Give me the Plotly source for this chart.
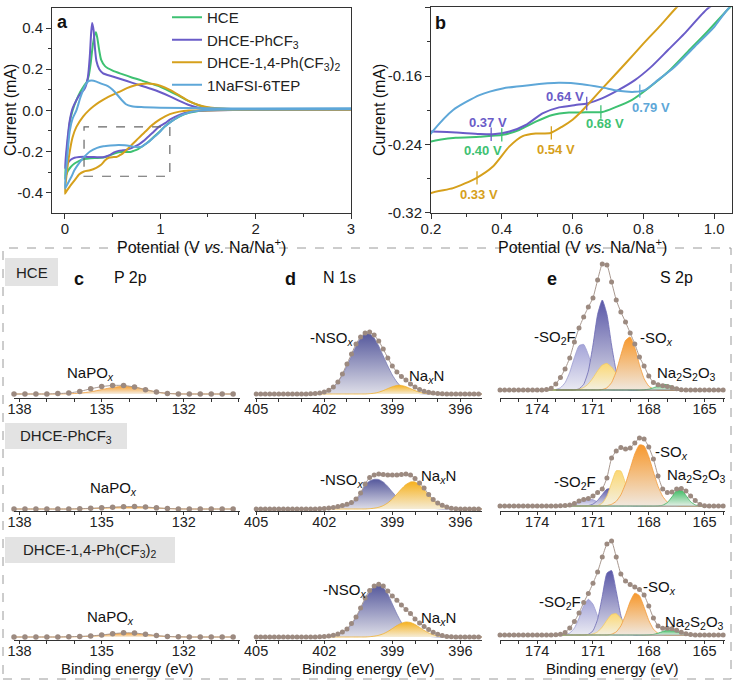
import plotly.graph_objects as go

W, H = 734, 682
FONT = "Arial, 'Liberation Sans', sans-serif"

# ---------------- CV data (panel a; panel b is a zoom of the same curves) ----------------
hce_v = [3.0, 2.0, 1.6, 1.5, 1.4, 1.3, 1.2, 1.1, 1.042, 0.98, 0.925, 0.87, 0.813, 0.767, 0.72, 0.684,
         0.637, 0.59, 0.543, 0.496, 0.449, 0.403, 0.337, 0.27, 0.2, 0.15, 0.1, 0.06, 0.03, 0.01, 0.0,
         0.02, 0.05, 0.08, 0.12, 0.16, 0.2, 0.23, 0.25, 0.27, 0.29, 0.31, 0.325, 0.34, 0.36, 0.38, 0.42,
         0.5, 0.6, 0.7, 0.8, 0.9, 1.0, 1.1, 1.2, 1.3, 1.4, 1.5, 1.7, 2.0, 2.5, 3.0]
hce_i = [0.004, 0.003, 0.002, 0.001, -0.003, -0.012, -0.03, -0.058, -0.0806, -0.1084, -0.1317, -0.155,
         -0.1744, -0.188, -0.1966, -0.202, -0.2024, -0.2027, -0.2055, -0.2133, -0.223, -0.2287, -0.231,
         -0.2322, -0.2366, -0.245, -0.258, -0.275, -0.295, -0.318, -0.332,
         -0.2, -0.06, 0.0, 0.05, 0.09, 0.12, 0.14, 0.17, 0.23, 0.31, 0.365, 0.38, 0.35, 0.29, 0.245, 0.215,
         0.193, 0.176, 0.16, 0.146, 0.13, 0.115, 0.093, 0.07, 0.045, 0.025, 0.013, 0.007, 0.006, 0.006, 0.006]

ph_v = [3.0, 2.0, 1.5, 1.4, 1.3, 1.2, 1.1, 1.05, 0.981, 0.916, 0.869, 0.822, 0.776, 0.729, 0.683, 0.641,
        0.608, 0.562, 0.515, 0.468, 0.422, 0.375, 0.337, 0.272, 0.2, 0.15, 0.1, 0.06, 0.03, 0.01, 0.0,
        0.02, 0.05, 0.08, 0.12, 0.16, 0.2, 0.22, 0.24, 0.26, 0.275, 0.285, 0.3, 0.315, 0.33, 0.36, 0.4,
        0.5, 0.6, 0.7, 0.8, 0.9, 1.0, 1.1, 1.2, 1.3, 1.4, 1.5, 1.7, 2.0, 3.0]
ph_i = [0.003, 0.003, 0.0, -0.002, -0.008, -0.022, -0.045, -0.062, -0.0812, -0.1103, -0.1298, -0.1492,
        -0.1647, -0.1764, -0.186, -0.192, -0.1938, -0.1966, -0.2036, -0.2172, -0.2249, -0.228, -0.2277,
        -0.2261, -0.2249, -0.226, -0.23, -0.24, -0.255, -0.27, -0.28,
        -0.17, -0.05, 0.01, 0.05, 0.08, 0.1, 0.12, 0.16, 0.26, 0.38, 0.425, 0.39, 0.3, 0.24, 0.2, 0.18,
        0.165, 0.15, 0.135, 0.12, 0.105, 0.088, 0.068, 0.046, 0.026, 0.013, 0.007, 0.005, 0.005, 0.005]

ph2_v = [3.0, 2.0, 1.4, 1.3, 1.2, 1.1, 1.0, 0.95, 0.893, 0.85, 0.8, 0.75, 0.683, 0.646, 0.62, 0.6, 0.571,
         0.538, 0.496, 0.459, 0.421, 0.375, 0.328, 0.2625, 0.2, 0.15, 0.1, 0.05, 0.02, 0.0,
         0.02, 0.05, 0.08, 0.12, 0.19, 0.25, 0.3, 0.36, 0.45, 0.57, 0.65, 0.72, 0.8, 0.86, 0.93, 1.0,
         1.1, 1.2, 1.3, 1.4, 1.5, 1.6, 1.8, 2.0, 3.0]
ph2_i = [0.003, 0.003, 0.0, -0.001, -0.006, -0.018, -0.042, -0.058, -0.08, -0.1, -0.122, -0.145, -0.175,
         -0.192, -0.2035, -0.211, -0.219, -0.2265, -0.2272, -0.2302, -0.2425, -0.2658, -0.2793, -0.2911,
         -0.2968, -0.31, -0.34, -0.37, -0.39, -0.405,
         -0.3, -0.2, -0.13, -0.08, -0.03, 0.0, 0.02, 0.04, 0.065, 0.09, 0.108, 0.12, 0.128, 0.131, 0.128,
         0.12, 0.1, 0.073, 0.045, 0.026, 0.015, 0.01, 0.006, 0.005, 0.004]

tep_v = [3.0, 2.0, 1.5, 1.4, 1.3, 1.2, 1.1, 1.042, 1.0, 0.944, 0.888, 0.841, 0.804, 0.776, 0.729, 0.683,
         0.627, 0.561, 0.477, 0.4025, 0.337, 0.2625, 0.2, 0.15, 0.1, 0.07, 0.03, 0.0,
         0.02, 0.05, 0.08, 0.12, 0.16, 0.2, 0.24, 0.28, 0.33, 0.38, 0.45, 0.5, 0.55, 0.6, 0.64, 0.7,
         0.8, 1.0, 1.5, 2.0, 3.0]
tep_i = [0.005, 0.004, 0.002, -0.002, -0.01, -0.028, -0.06, -0.08, -0.1026, -0.1259, -0.1492, -0.1647,
         -0.1764, -0.1784, -0.1772, -0.1732, -0.1694, -0.1679, -0.1706, -0.1744, -0.1822, -0.1997, -0.2269,
         -0.255, -0.29, -0.32, -0.355, -0.38,
         -0.25, -0.1, -0.04, 0.0, 0.06, 0.11, 0.14, 0.145, 0.14, 0.13, 0.118, 0.1, 0.075, 0.048, 0.03,
         0.02, 0.016, 0.013, 0.01, 0.009, 0.01]

cv_names = ["HCE", "DHCE-PhCF<sub>3</sub>", "DHCE-1,4-Ph(CF<sub>3</sub>)<sub>2</sub>", "1NaFSI-6TEP"]
cv_data = [(hce_v, hce_i), (ph_v, ph_i), (ph2_v, ph2_i), (tep_v, tep_i)]
cv_colors = ["#3ec172", "#6a5cc8", "#d6a01c", "#5ea7d8"]

# onset markers in panel b (series index into cv lists)
mark_v = [0.64, 0.37, 0.40, 0.68, 0.79, 0.54, 0.33]
mark_i = [-0.192, -0.228, -0.2287, -0.202, -0.1775, -0.2265, -0.279]
mark_series = [1, 1, 0, 0, 3, 2, 2]
mark_label = ["0.64 V", "0.37 V", "0.40 V", "0.68 V", "0.79 V", "0.54 V", "0.33 V"]
label_v = [0.58, 0.36, 0.347, 0.692, 0.823, 0.552, 0.337]
label_i = [-0.1834, -0.2145, -0.247, -0.216, -0.1966, -0.2463, -0.298]
zoom_box = [0.2, 1.1, -0.32, -0.08]

# ---------------- XPS data (intensity, arbitrary units) ----------------
E_P = [138.2, 137.8, 137.4, 137.0, 136.6, 136.2, 135.8, 135.4, 135.0, 134.6, 134.2, 133.8, 133.4,
       133.0, 132.6, 132.2, 131.8, 131.4, 131.0, 130.6, 130.2]
E_N = [405.0, 404.8, 404.6, 404.4, 404.2, 404.0, 403.8, 403.6, 403.4, 403.2, 403.0, 402.8, 402.6, 402.4,
       402.2, 402.0, 401.8, 401.6, 401.4, 401.2, 401.0, 400.8, 400.6, 400.4, 400.2, 400.0, 399.8, 399.6,
       399.4, 399.2, 399.0, 398.8, 398.6, 398.4, 398.2, 398.0, 397.8, 397.6, 397.4, 397.2, 397.0, 396.8,
       396.6, 396.4, 396.2, 396.0, 395.8, 395.6, 395.4, 395.2, 395.0]
E_S = [176.0, 175.75, 175.5, 175.25, 175.0, 174.75, 174.5, 174.25, 174.0, 173.75, 173.5, 173.25, 173.0,
       172.75, 172.5, 172.25, 172.0, 171.75, 171.5, 171.25, 171.0, 170.75, 170.5, 170.25, 170.0, 169.75,
       169.5, 169.25, 169.0, 168.75, 168.5, 168.25, 168.0, 167.75, 167.5, 167.25, 167.0, 166.75, 166.5,
       166.25, 166.0, 165.75, 165.5, 165.25, 165.0, 164.75, 164.5, 164.25, 164.0]

# P 2p
p_hce_raw = [0, 0, 0, 0, 0.4, 1.0, 2.6, 5.2, 7.4, 8.6, 8.6, 7.0, 4.2, 2.0, 0.6, 0, 0, 0, 0, 0, 0]
p_hce_napo = [0, 0, 0, 0, 0, 0.2, 0.8, 2.2, 4.4, 6.6, 7.8, 7.0, 4.6, 2.0, 0.6, 0.1, 0, 0, 0, 0, 0]
p_ph_raw = [0, 0, 0, 0, 0, 0, 0.3, 0.7, 1.2, 1.8, 2.3, 2.4, 2.0, 1.2, 0.5, 0.1, 0, 0, 0, 0, 0]
p_ph_napo = [0, 0, 0, 0, 0, 0, 0.1, 0.4, 0.9, 1.5, 2.0, 2.1, 1.7, 1.0, 0.4, 0.1, 0, 0, 0, 0, 0]
p_ph2_raw = [0, 0, 0, 0, 0, 0.3, 0.6, 1.1, 2.0, 3.3, 4.2, 4.0, 2.8, 1.4, 0.6, 0.2, 0, 0, 0, 0, 0]
p_ph2_napo = [0, 0, 0, 0, 0, 0.1, 0.3, 0.8, 1.7, 2.9, 3.7, 3.6, 2.5, 1.2, 0.4, 0.1, 0, 0, 0, 0, 0]

# N 1s
n_hce_raw = [0] * 12 + [0.2, 0.5, 1.0, 2.0, 3.7, 7, 12, 20, 30, 40, 50, 57, 61, 62, 59, 53, 45, 36, 28,
                        22, 17.5, 14, 10, 7, 4.5, 2.8, 1.7, 1.0, 0.5, 0.2] + [0] * 9
n_hce_nso = [0] * 12 + [0.2, 0.4, 0.9, 1.9, 3.8, 7, 12, 19, 28, 38, 48, 56, 60.4, 60.4, 56, 48, 38, 28,
                        19, 12, 7, 3.8, 1.9, 0.9, 0.4, 0.2] + [0] * 13
n_hce_nax = [0] * 25 + [0.3, 0.8, 1.8, 3.4, 5.4, 7.3, 8.6, 8.6, 7.3, 5.4, 3.4, 1.8, 0.8, 0.3] + [0] * 12
n_ph_raw = [0] * 14 + [0.3, 0.6, 1.0, 1.6, 2.4, 3.4, 4.8, 6.6, 10, 16, 25, 31.5, 34, 35, 34.5, 34, 34,
                       34, 34.5, 35, 34, 30.5, 26, 21, 14.5, 9.5, 6, 3.8, 2.0, 0.8, 0.3] + [0] * 6
n_ph_nso = [0] * 15 + [0.3, 0.6, 1.0, 1.6, 2.4, 3.5, 5, 8.5, 15, 24, 28, 29.7, 29.5, 27, 22.5, 17, 12,
                       8.5, 6, 4.2, 3, 2.2, 1.5, 1.0, 0.6, 0.3] + [0] * 10
n_ph_nax = [0] * 25 + [0.3, 0.8, 1.7, 3.4, 6.1, 10, 14.9, 20, 24.4, 27, 27, 24, 19, 13, 8.5, 5, 2.8, 1.4,
                       0.6, 0.2] + [0] * 6
n_ph2_raw = [0] * 14 + [0.3, 0.5, 1.0, 1.8, 3, 5, 8, 13.5, 20, 29, 39, 46.5, 51, 52.7, 51, 46, 41, 36.7,
                        32, 27.5, 23.5, 18, 14, 10.5, 7.5, 4.8, 2.8, 1.5, 0.6, 0.2] + [0] * 7
n_ph2_nso = [0] * 15 + [0.4, 0.8, 1.5, 2.6, 4.5, 7.5, 12.5, 19, 28, 37.5, 45, 50.5, 52, 49.5, 43, 33, 23,
                        14.5, 8.5, 5, 3, 1.8, 1.1, 0.6, 0.3] + [0] * 11
n_ph2_nax = [0] * 25 + [0.3, 0.8, 1.7, 3.2, 5.5, 8.4, 11.4, 13.8, 15, 14.5, 12.5, 9.6, 6.6, 4.1, 2.2,
                        1.1, 0.5, 0.2] + [0] * 8

# S 2p
s_hce_raw = [0] * 10 + [0.5, 1.7, 6, 12.5, 21, 32, 48, 62, 73, 83, 92, 110, 126, 125, 108, 90, 78, 68,
                        57, 46, 33, 24, 14, 7.5, 5.2, 4.3, 3.6, 2.5, 1.2, 0.3] + [0] * 9
s_hce_so2f_b = [0] * 12 + [0.5, 2.2, 7.3, 17.7, 32.4, 44.3, 45.6, 35.3, 20.5, 8.9, 2.9, 0.7] + [0] * 25
s_hce_so2f_a = [0] * 17 + [1.2, 5.6, 18.9, 45, 75.7, 90, 75.7, 45, 18.9, 5.6, 1.2] + [0] * 21
s_hce_sox_b = [0] * 17 + [0.8, 2.5, 6.1, 12, 19.2, 25, 26.6, 23, 16.3, 9.3, 4.4, 1.7, 0.5] + [0] * 19
s_hce_sox_a = [0] * 22 + [0.5, 2.2, 7.4, 18.5, 34.9, 49.5, 53, 42.2, 25.3, 11.4, 3.9, 1.0] + [0] * 15
s_hce_thio = [0] * 31 + [0.2, 0.8, 2.2, 4.1, 5.6, 5.3, 3.6, 1.7, 0.6, 0.2] + [0] * 8

s_ph_raw = [0] * 13 + [0.2, 0.5, 0.9, 2.5, 5, 6.5, 7.5, 10, 13.5, 17, 28, 48, 55, 58.5, 57, 58, 63, 68,
                       67, 59, 47, 30, 17, 13.5, 14, 17, 17.5, 15, 10, 5.5, 1.5, 0.3] + [0] * 4
s_ph_so2f_b = [0] * 15 + [0.3, 1.2, 3, 5.5, 6.9, 6.3, 4, 1.8, 0.6] + [0] * 25
s_ph_so2f_a = [0] * 19 + [0.5, 1.9, 5.6, 11.5, 16.9, 17.5, 12.8, 6.6, 2.4, 0.6] + [0] * 20
s_ph_sox_b = [0] * 21 + [0.5, 2.8, 9.9, 23.2, 35.2, 34.9, 22.6, 9.5, 2.6, 0.5] + [0] * 18
s_ph_sox_a = [0] * 23 + [0.5, 1.7, 4.7, 11.2, 22.3, 37.2, 52.1, 61.1, 60.1, 49.4, 34.1, 19.7, 9.6, 3.9,
                         1.3, 0.4] + [0] * 10
s_ph_thio_b = [0] * 31 + [0.3, 1.0, 2.3, 3.6, 4, 3.4, 2.1, 0.9, 0.3] + [0] * 9
s_ph_thio = [0] * 34 + [0.1, 0.8, 3.4, 9.2, 15.6, 16.3, 10.6, 4.3, 1.1, 0.2] + [0] * 5

s_ph2_raw = [0] * 12 + [0.3, 0.8, 2.6, 7, 13.5, 22, 32.5, 41.5, 51.7, 63, 78, 91, 94, 78, 61, 54, 50.5,
                        48, 45.5, 40, 29, 17, 9, 6.7, 6.7, 6.2, 4.8, 2.8, 1.2, 0.4] + [0] * 7
s_ph2_so2f_b = [0] * 14 + [0.4, 2.0, 6.9, 16.9, 29.2, 35.7, 30.8, 18.8, 8.1, 2.5, 0.5] + [0] * 24
s_ph2_so2f_a = [0] * 19 + [0.7, 4.2, 15.7, 38.6, 61.8, 64.4, 43.8, 19.5, 5.6, 1.1] + [0] * 20
s_ph2_sox_b = [0] * 19 + [0.3, 1.0, 3.2, 8.0, 14.8, 20.5, 21.3, 16.6, 9.8, 4.3, 1.4, 0.4] + [0] * 18
s_ph2_sox_a = [0] * 24 + [0.8, 3.1, 9.1, 20.1, 33.4, 41.8, 39.3, 27.7, 14.7, 5.8, 1.7, 0.4] + [0] * 13
s_ph2_thio = [0] * 32 + [0.2, 0.6, 1.8, 3.5, 4.8, 4.7, 3.3, 1.6, 0.6, 0.2] + [0] * 7

# gradient colours (bottom, top) and edge colour per component kind
GRAD = {
    "napo": ("#f6eee2", "#f5a034", "#f0a040"),
    "nso": ("#dedee8", "#55589c", "#7a7cb4"),
    "nax": ("#f5ecd6", "#f6b11e", "#f0b030"),
    "lav": ("#eaeaf2", "#a4a4d8", "#9c9cd0"),
    "navy": ("#e0e0ea", "#5a58a8", "#6c6ab4"),
    "yel": ("#f3f0e2", "#fcd874", "#f4cc60"),
    "org": ("#f0e8de", "#f7982c", "#f29a38"),
    "lgrn": ("#eef6ef", "#bfe6c8", "#b0dcba"),
    "grn": ("#e2efe5", "#3dbb62", "#40b060"),
}
DOT = "#9c8a80"

fig = go.Figure()


def fx(p):
    return p / W


def fy(p):
    return 1 - p / H


# ---------------- panels a and b ----------------
for (v, cur), name, col in zip(cv_data, cv_names, cv_colors):
    fig.add_trace(go.Scatter(x=v, y=cur, mode="lines", name=name,
                             line=dict(color=col, width=2, shape="spline", smoothing=0.6),
                             xaxis="x", yaxis="y", showlegend=True))
for (v, cur), name, col in zip(cv_data, cv_names, cv_colors):
    fig.add_trace(go.Scatter(x=v, y=cur, mode="lines", line=dict(color=col, width=2, shape="spline", smoothing=0.6),
                             xaxis="x2", yaxis="y2", showlegend=False))

for v, c, s in zip(mark_v, mark_i, mark_series):
    fig.add_trace(go.Scatter(x=[v, v], y=[c - 0.0078, c + 0.0078], mode="lines",
                             line=dict(color=cv_colors[s], width=1.3), xaxis="x2", yaxis="y2", showlegend=False))

annotations = []
for t, v, c, s in zip(mark_label, label_v, label_i, mark_series):
    annotations.append(dict(text="<b>%s</b>" % t, x=v, y=c, xref="x2", yref="y2", showarrow=False,
                            xanchor="center", yanchor="middle", font=dict(size=13, color=cv_colors[s])))

shapes = [dict(type="rect", xref="x", yref="y", x0=zoom_box[0], x1=zoom_box[1], y0=zoom_box[2], y1=zoom_box[3],
               line=dict(color="#666", width=1.2, dash="dash"))]

axline = dict(showline=True, linecolor="#333", linewidth=1, mirror=True, showgrid=False, zeroline=False,
              ticks="outside", ticklen=5, tickcolor="#333", tickfont=dict(size=15, color="#222"), automargin=False)

layout = dict(
    xaxis=dict(axline, domain=[fx(52), fx(351)], range=[-0.136, 3.0], tickvals=[0, 1, 2, 3],
               ticklabelstandoff=-3,
               minor=dict(tickvals=[0.5, 1.5, 2.5], ticks="outside", ticklen=3, tickcolor="#333"), anchor="y"),
    yaxis=dict(axline, domain=[fy(213.3), fy(7.5)], range=[-0.5, 0.5],
               tickvals=[-0.4, -0.2, 0.0, 0.2, 0.4], ticktext=["-0.4", "-0.2", "0.0", "0.2", "0.4"],
               minor=dict(tickvals=[-0.3, -0.1, 0.1, 0.3], ticks="outside", ticklen=3, tickcolor="#333"),
               anchor="x"),
    xaxis2=dict(axline, domain=[fx(431), fx(732)], range=[0.2, 1.0505],
                tickvals=[0.2, 0.4, 0.6, 0.8, 1.0], ticktext=["0.2", "0.4", "0.6", "0.8", "1.0"],
                ticklabelstandoff=-3,
                minor=dict(tickvals=[0.3, 0.5, 0.7, 0.9], ticks="outside", ticklen=3, tickcolor="#333"),
                anchor="y2"),
    yaxis2=dict(axline, domain=[fy(213.3), fy(7.3)], range=[-0.3205, -0.0795],
                tickvals=[-0.32, -0.24, -0.16, -0.08], ticktext=["-0.32", "-0.24", "-0.16", "-0.08"],
                minor=dict(tickvals=[-0.28, -0.2, -0.12], ticks="outside", ticklen=3, tickcolor="#333"),
                anchor="x2"),
)

# ---------------- XPS panels c, d, e ----------------
cols = [
    dict(x0=14, x1=240, rng=[138.2, 129.95], ticks=[138, 135, 132], E=E_P),
    dict(x0=255, x1=482, rng=[405.05, 395.05], ticks=[405, 402, 399, 396], E=E_N),
    dict(x0=500, x1=725, rng=[176.0, 163.9], ticks=[174, 171, 168, 165], E=E_S),
]
rows = [
    dict(top=255, bottom=398, off=(4, 4, 8)),
    dict(top=430, bottom=511, off=(2, 2, 5)),
    dict(top=535, bottom=640, off=(3, 3, 5)),
]
spectra = [
    [(p_hce_raw, [(p_hce_napo, "napo")]),
     (n_hce_raw, [(n_hce_nso, "nso"), (n_hce_nax, "nax")]),
     (s_hce_raw, [(s_hce_so2f_b, "lav"), (s_hce_so2f_a, "navy"), (s_hce_sox_b, "yel"), (s_hce_sox_a, "org"),
                  (s_hce_thio, "grn")])],
    [(p_ph_raw, [(p_ph_napo, "napo")]),
     (n_ph_raw, [(n_ph_nso, "nso"), (n_ph_nax, "nax")]),
     (s_ph_raw, [(s_ph_so2f_b, "lav"), (s_ph_so2f_a, "navy"), (s_ph_sox_b, "yel"), (s_ph_thio_b, "lgrn"),
                 (s_ph_sox_a, "org"), (s_ph_thio, "grn")])],
    [(p_ph2_raw, [(p_ph2_napo, "napo")]),
     (n_ph2_raw, [(n_ph2_nso, "nso"), (n_ph2_nax, "nax")]),
     (s_ph2_raw, [(s_ph2_so2f_b, "lav"), (s_ph2_so2f_a, "navy"), (s_ph2_sox_b, "yel"), (s_ph2_sox_a, "org"),
                  (s_ph2_thio, "grn")])],
]

n = 3
for r, row in enumerate(rows):
    for c, col in enumerate(cols):
        xa, ya = "x%d" % n, "y%d" % n
        raw, comps = spectra[r][c]
        E = col["E"]
        for vals, kind in comps:
            lo, hi, edge = GRAD[kind]
            fig.add_trace(go.Scatter(x=E, y=vals, mode="lines", fill="tozeroy",
                                     line=dict(color=edge, width=0.8, shape="spline", smoothing=0.5),
                                     fillgradient=dict(type="vertical", colorscale=[[0, lo], [1, hi]]),
                                     xaxis=xa, yaxis=ya, showlegend=False, hoverinfo="skip"))
        if c == 2:
            nz = [e for e, *vs in zip(E, *[v for v, _ in comps]) if max(vs) > 0.15]
            fig.add_trace(go.Scatter(x=[nz[0], nz[-1]], y=[0, 0], mode="lines",
                                     line=dict(color="#666" if r == 0 else "#9a9a9a", width=0.9),
                                     xaxis=xa, yaxis=ya, showlegend=False, hoverinfo="skip"))
        fig.add_trace(go.Scatter(x=E, y=raw, mode="lines+markers", cliponaxis=False,
                                 line=dict(color="#a8988f", width=1, shape="spline", smoothing=0.4),
                                 marker=dict(color=DOT, size=5 if c else 5.5),
                                 xaxis=xa, yaxis=ya, showlegend=False, hoverinfo="skip"))
        hgt = row["bottom"] - row["top"]
        off = row["off"][c]
        minor_vals = [t for t in range(int(col["rng"][1]) + 1, int(col["rng"][0]) + 1) if t not in col["ticks"]]
        layout["xaxis%d" % n] = dict(domain=[fx(col["x0"]), fx(col["x1"])], range=col["rng"], anchor=ya,
                                     showline=True, linecolor="#333", linewidth=1, showgrid=False, zeroline=False,
                                     ticks="outside", ticklen=3, tickcolor="#333", tickvals=col["ticks"],
                                     tickfont=dict(size=14.5, color="#222"), automargin=False,
                                     ticklabelstandoff=-5,
                                     minor=dict(tickvals=minor_vals, ticks="outside", ticklen=3, tickcolor="#333"))
        layout["yaxis%d" % n] = dict(domain=[fy(row["bottom"]), fy(row["top"])], range=[-off, hgt - off],
                                     anchor=xa, visible=False, automargin=False)
        n += 1

# big dashed frame and sample labels
shapes.append(dict(type="rect", xref="paper", yref="paper", x0=fx(3), x1=fx(731), y0=fy(679), y1=fy(248),
                   line=dict(color="#9a9a9a", width=1, dash="dash")))
row_labels = ["HCE", "DHCE-PhCF<sub>3</sub>", "DHCE-1,4-Ph(CF<sub>3</sub>)<sub>2</sub>"]
row_boxes = [(5, 258, 58, 286), (5, 423, 127, 449), (5, 537, 175, 563)]
for txt, (x0, y0, x1, y1) in zip(row_labels, row_boxes):
    shapes.append(dict(type="rect", xref="paper", yref="paper", x0=fx(x0), x1=fx(x1), y0=fy(y1), y1=fy(y0),
                       fillcolor="#e3e3e3", line=dict(width=0), layer="below"))
    annotations.append(dict(text=txt, x=fx((x0 + x1) / 2), y=fy((y0 + y1) / 2), xref="paper", yref="paper",
                            xanchor="center", yanchor="middle", showarrow=False, font=dict(size=15, color="#222")))


def note(text, x, y, size=15, bold=False, angle=0):
    annotations.append(dict(text="<b>%s</b>" % text if bold else text, x=fx(x), y=fy(y), xref="paper",
                            yref="paper", xanchor="center", yanchor="middle", showarrow=False, textangle=angle,
                            font=dict(size=size, color="#111")))


pot_title = "Potential (V <i>vs.</i> Na/Na<sup>+</sup>)"
note(pot_title, 201, 246, 16)
note(pot_title, 582, 246, 16)
note("Current (mA)", 11, 110, 16, angle=-90)
note("Current (mA)", 380, 110, 16, angle=-90)
for xc in (127, 368, 612):
    note("Binding energy (eV)", xc, 668, 15)

note("a", 62, 22, 18, True)
note("b", 440, 23, 18, True)
note("c", 79, 279, 18, True)
note("d", 290, 279, 18, True)
note("e", 552, 279, 18, True)
note("P 2p", 130, 277, 16)
note("N 1s", 339, 277, 16)
note("S 2p", 676, 277, 16)

NAPO = "NaPO<sub><i>x</i></sub>"
NSO = "-NSO<sub><i>x</i></sub>"
NAXN = "Na<sub><i>x</i></sub>N"
SO2F = "-SO<sub>2</sub>F"
SOX = "-SO<sub><i>x</i></sub>"
THIO = "Na<sub>2</sub>S<sub>2</sub>O<sub>3</sub>"
for t, x, y in [(NAPO, 90, 374), (NSO, 332, 338), (NAXN, 426, 377), (SO2F, 555, 337), (SOX, 656, 338),
                (THIO, 686, 373), (NAPO, 113, 488), (NSO, 342, 480), (NAXN, 438, 476), (SO2F, 575, 482),
                (SOX, 671, 452), (THIO, 696, 475), (NAPO, 110, 617), (NSO, 345, 590), (NAXN, 438, 618),
                (SO2F, 560, 602), (SOX, 659, 587), (THIO, 694, 622)]:
    note(t, x, y, 15)

fig.update_layout(
    width=W, height=H, margin=dict(l=0, r=0, t=0, b=0, pad=0), autosize=False,
    paper_bgcolor="white", plot_bgcolor="white",
    font=dict(family=FONT, color="#222"),
    legend=dict(x=fx(167), y=fy(1), xanchor="left", yanchor="top", bgcolor="rgba(0,0,0,0)",
                font=dict(size=15, color="#222"), itemwidth=30, tracegroupgap=0),
    shapes=shapes, annotations=annotations,
    **layout,
)

# the page body keeps its default 8px margin otherwise
fig.write_html("out.html", config={"displayModeBar": False},
               post_script="document.body.style.margin='0px';")
